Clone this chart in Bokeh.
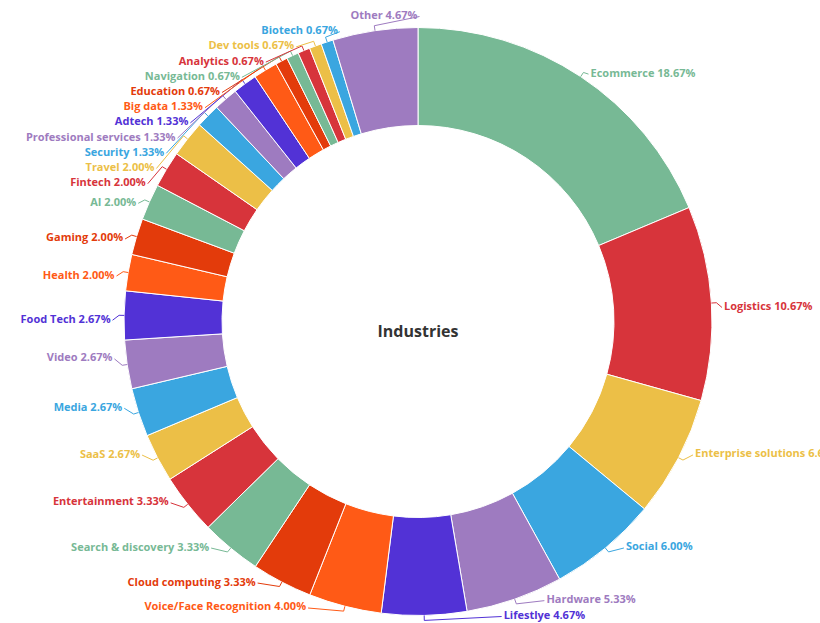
import numpy as np
from bokeh.plotting import figure
from bokeh.models import ColumnDataSource, Range1d
from bokeh.embed import file_html
from bokeh.resources import INLINE
from bokeh.core.properties import value

# ---------------- data ----------------
categories = ["Ecommerce", "Logistics", "Enterprise solutions", "Social", "Hardware",
              "Lifestlye", "Voice/Face Recognition", "Cloud computing", "Search & discovery",
              "Entertainment", "SaaS", "Media", "Video", "Food Tech", "Health", "Gaming",
              "AI", "Fintech", "Travel", "Security", "Professional services", "Adtech",
              "Big data", "Education", "Navigation", "Analytics", "Dev tools", "Biotech", "Other"]
shares = [18.67, 10.67, 6.67, 6.00, 5.33,
          4.67, 4.00, 3.33, 3.33,
          3.33, 2.67, 2.67, 2.67, 2.67, 2.00, 2.00,
          2.00, 2.00, 2.00, 1.33, 1.33, 1.33,
          1.33, 0.67, 0.67, 0.67, 0.67, 0.67, 4.67]
center_title = "Industries"

# ---------------- style ----------------
palette = ["#77b995", "#d7343b", "#ecbf47", "#3aa6e0", "#9e7bc0", "#5232d6", "#ff5a16", "#e33b0b"]
colors = [palette[i % len(palette)] for i in range(len(categories))]
FONT = "Open Sans"
W, H = 820, 623
CX, CY = 417.5, 321.0          # ring centre (page pixels)
R_OUT, R_IN = 294.0, 196.0

vals = np.array(shares, dtype=float)
frac = vals / vals.sum()
ends = np.cumsum(frac)
starts = ends - frac
mids = 2 * np.pi * (starts + ends) / 2.0   # clockwise from 12 o'clock

wedges = ColumnDataSource(dict(
    start=np.pi / 2 - 2 * np.pi * starts,
    end=np.pi / 2 - 2 * np.pi * ends,
    color=colors,
))

# ---------------- label layout ----------------
def distribute(targets, size, lo, hi):
    order = list(np.argsort(targets))
    boxes = [{"m": [i], "t": targets[i], "s": size} for i in order]

    def pos(b):
        p = b["t"] - b["s"] / 2
        return min(max(p, lo - size / 2), hi + size / 2 - b["s"])

    changed = True
    while changed:
        changed = False
        for k in range(len(boxes) - 1):
            a, b = boxes[k], boxes[k + 1]
            if pos(a) + a["s"] > pos(b) + 1e-9:
                m = a["m"] + b["m"]
                boxes[k] = {"m": m, "t": float(np.mean([targets[i] for i in m])), "s": a["s"] + b["s"]}
                del boxes[k + 1]
                changed = True
                break
    out = {}
    for b in boxes:
        p = pos(b)
        for j, i in enumerate(b["m"]):
            out[i] = p + size / 2 + j * size
    return out

n = len(categories)
side = np.where(mids < np.pi, 1, -1)
anchor = 318.0 - 303.0 * np.cos(mids)
target_y = anchor + np.where(np.cos(mids) > 0, 6.0, -6.0)
label_y = np.zeros(n)
for sd in (1, -1):
    idx = [i for i in range(n) if side[i] == sd]
    res = distribute([target_y[i] for i in idx], 15.2, 14.0, 614.0)
    for k, i in enumerate(idx):
        label_y[i] = res[k]

ratio = np.clip((label_y - 322.5) / 303.7, -1, 1)
label_x = 417.0 + side * 307.0 * np.sqrt(1 - ratio ** 2)

texts = [f"{c} {v:.2f}%" for c, v in zip(categories, shares)]
labels = ColumnDataSource(dict(
    x=label_x, y=-label_y, text=texts, color=colors,
    align=["left" if s > 0 else "right" for s in side],
))

xs, ys = [], []
for i in range(n):
    s, c = np.sin(mids[i]), np.cos(mids[i])
    x0, y0 = CX + R_OUT * s, CY - R_OUT * c
    x1, y1 = CX + (R_OUT + 5) * s, CY - (R_OUT + 5) * c
    x2, y2 = label_x[i] - side[i] * 2, label_y[i] + 2
    xs.append([x0, x1, x2])
    ys.append([-y0, -y1, -y2])
conn = ColumnDataSource(dict(xs=xs, ys=ys, color=colors))

# ---------------- figure ----------------
p = figure(width=W, height=H, x_range=Range1d(0, W), y_range=Range1d(-H, 0),
           output_backend="svg", toolbar_location=None, min_border=0)
p.axis.visible = False
p.grid.visible = False
p.outline_line_color = None
p.background_fill_color = "white"

p.annular_wedge(x=CX, y=-CY, inner_radius=R_IN, outer_radius=R_OUT,
                start_angle="start", end_angle="end", direction="clock",
                fill_color="color", line_color="white", line_width=1, source=wedges)

p.multi_line(xs="xs", ys="ys", line_color="color", line_width=1, source=conn)

p.text(x="x", y="y", text="text", text_color="color", text_align="align",
       text_baseline="middle", text_font=value(FONT), text_font_size="11px",
       text_font_style="bold", source=labels)

p.text(x=[CX], y=[-330], text=[center_title], text_color="#333333", text_align="center",
       text_baseline="middle", text_font=value(FONT), text_font_size="16px",
       text_font_style="bold")

open("out.html", "w").write(file_html(p, INLINE))
